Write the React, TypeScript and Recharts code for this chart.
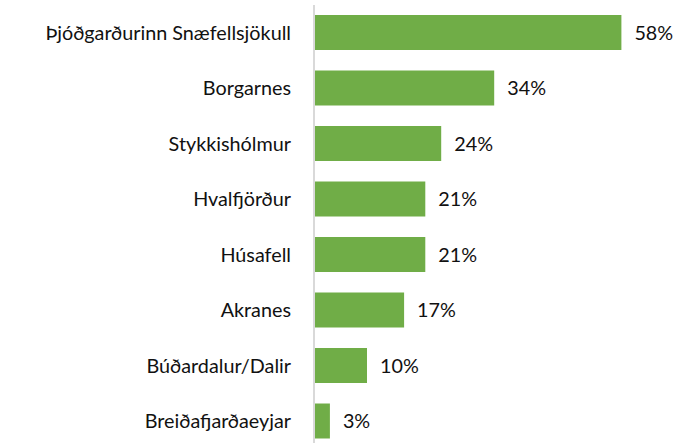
import { BarChart, Bar, XAxis, YAxis, LabelList } from "recharts";

const stadir = [
  "Þjóðgarðurinn Snæfellsjökull",
  "Borgarnes",
  "Stykkishólmur",
  "Hvalfjörður",
  "Húsafell",
  "Akranes",
  "Búðardalur/Dalir",
  "Breiðafjarðaeyjar",
];

const hlutfall = [58, 34, 24, 21, 21, 17, 10, 3];

const gogn = stadir.map((nafn, i) => ({ nafn, gildi: hlutfall[i] }));

const letur = "Lato, 'Open Sans', sans-serif";

export default function App() {
  return (
    <div
      style={{
        position: "absolute",
        left: 0,
        top: 0,
        width: 679,
        height: 443,
        overflow: "hidden",
        background: "#fff",
      }}
    >
      <BarChart
        width={679}
        height={450}
        data={gogn}
        layout="vertical"
        margin={{ top: 5, right: 47, left: 0, bottom: 1 }}
      >
        <XAxis type="number" domain={[0, 60]} hide />
        <YAxis
          type="category"
          dataKey="nafn"
          width={314}
          tickLine={false}
          tickSize={0}
          tickMargin={23}
          axisLine={{ stroke: "#d9d9d9", strokeWidth: 2 }}
          tick={{ fill: "#111", fontSize: 19.8, fontFamily: letur }}
          interval={0}
        />
        <Bar dataKey="gildi" fill="#70ad47" barSize={35} isAnimationActive={false}>
          <LabelList
            dataKey="gildi"
            position="right"
            offset={13}
            formatter={(v: number) => `${v}%`}
            style={{ fill: "#111", fontSize: 19.8, fontFamily: letur }}
          />
        </Bar>
      </BarChart>
    </div>
  );
}
